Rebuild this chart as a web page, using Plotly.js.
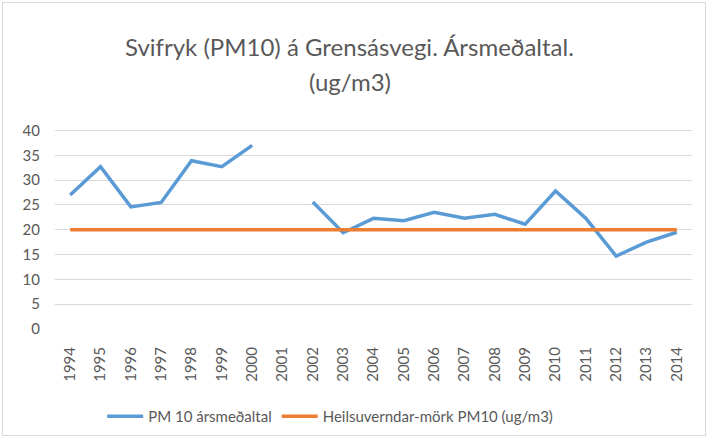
<!DOCTYPE html>
<html><head><meta charset="utf-8">
<script src="https://cdn.plot.ly/plotly-3.0.1.min.js"></script>
<style>html,body{margin:0;padding:0;background:#fff;}#wrap{position:absolute;left:2px;top:2px;width:702px;height:432px;border:1px solid #d9d9d9;}#chart{position:absolute;left:-3px;top:-3px;width:707px;height:437px;}</style>
</head><body><div id="wrap"><div id="chart"></div></div>
<script>
var years = ["1994","1995","1996","1997","1998","1999","2000","2001","2002","2003","2004","2005","2006","2007","2008","2009","2010","2011","2012","2013","2014"];
var pm10 = [27.0,32.7,24.6,25.5,33.9,32.7,37.0,null,25.6,19.4,22.3,21.8,23.5,22.3,23.1,21.1,27.8,22.3,14.7,17.5,19.5];
var limit = [20,20,20,20,20,20,20,20,20,20,20,20,20,20,20,20,20,20,20,20,20];
var yTicks = [0,5,10,15,20,25,30,35,40];
var titleLines = ['Svifryk (PM10) á Grensásvegi. Ársmeðaltal.', '(ug/m3)'];
var fnt = "Lato, 'Open Sans', sans-serif";
var traces = [
  {x: years, y: pm10, type:'scatter', mode:'lines', name:'PM 10 ársmeðaltal', connectgaps:false,
   line:{color:'#5b9bd5', width:3.5}},
  {x: years, y: limit, type:'scatter', mode:'lines', name:'Heilsuverndar-mörk PM10 (ug/m3)',
   line:{color:'#ed7d31', width:3.5}}
];
var layout = {
  width:707, height:437,
  margin:{l:55, r:15, t:128, b:108},
  paper_bgcolor:'rgba(0,0,0,0)', plot_bgcolor:'rgba(0,0,0,0)',
  font:{family:fnt, color:'#595959', size:14},
  annotations:[
    {text:titleLines[0], xref:'paper', yref:'paper', x:0.5, y:(329-46)/201, xanchor:'center', yanchor:'middle', showarrow:false, font:{family:fnt, size:24, color:'#595959'}, xshift:-24},
    {text:titleLines[1], xref:'paper', yref:'paper', x:0.5, y:(329-82)/201, xanchor:'center', yanchor:'middle', showarrow:false, font:{family:fnt, size:24, color:'#595959'}, xshift:-24}
  ],
  xaxis:{type:'category', range:[-0.5,20.5], tickangle:-90, showgrid:false, zeroline:false, automargin:false,
    showline:false, ticks:'', ticklabelstandoff:14, tickfont:{size:15, color:'#595959'}},
  yaxis:{range:[0,40.5], tickvals:yTicks, showgrid:true, gridcolor:'#d9d9d9', gridwidth:1, automargin:false,
    zeroline:false, showline:false, ticks:'', ticklen:0, ticklabelstandoff:14, tickfont:{size:15, color:'#595959'}},
  showlegend:true,
  legend:{orientation:'h', xref:'paper', yref:'container', x:0.432, xanchor:'center', y:(437-400)/437, yanchor:'top', font:{size:15, color:'#595959'}, traceorder:'normal', itemwidth:36}
};
Plotly.newPlot('chart', traces, layout, {displayModeBar:false, staticPlot:true});
</script></body></html>
